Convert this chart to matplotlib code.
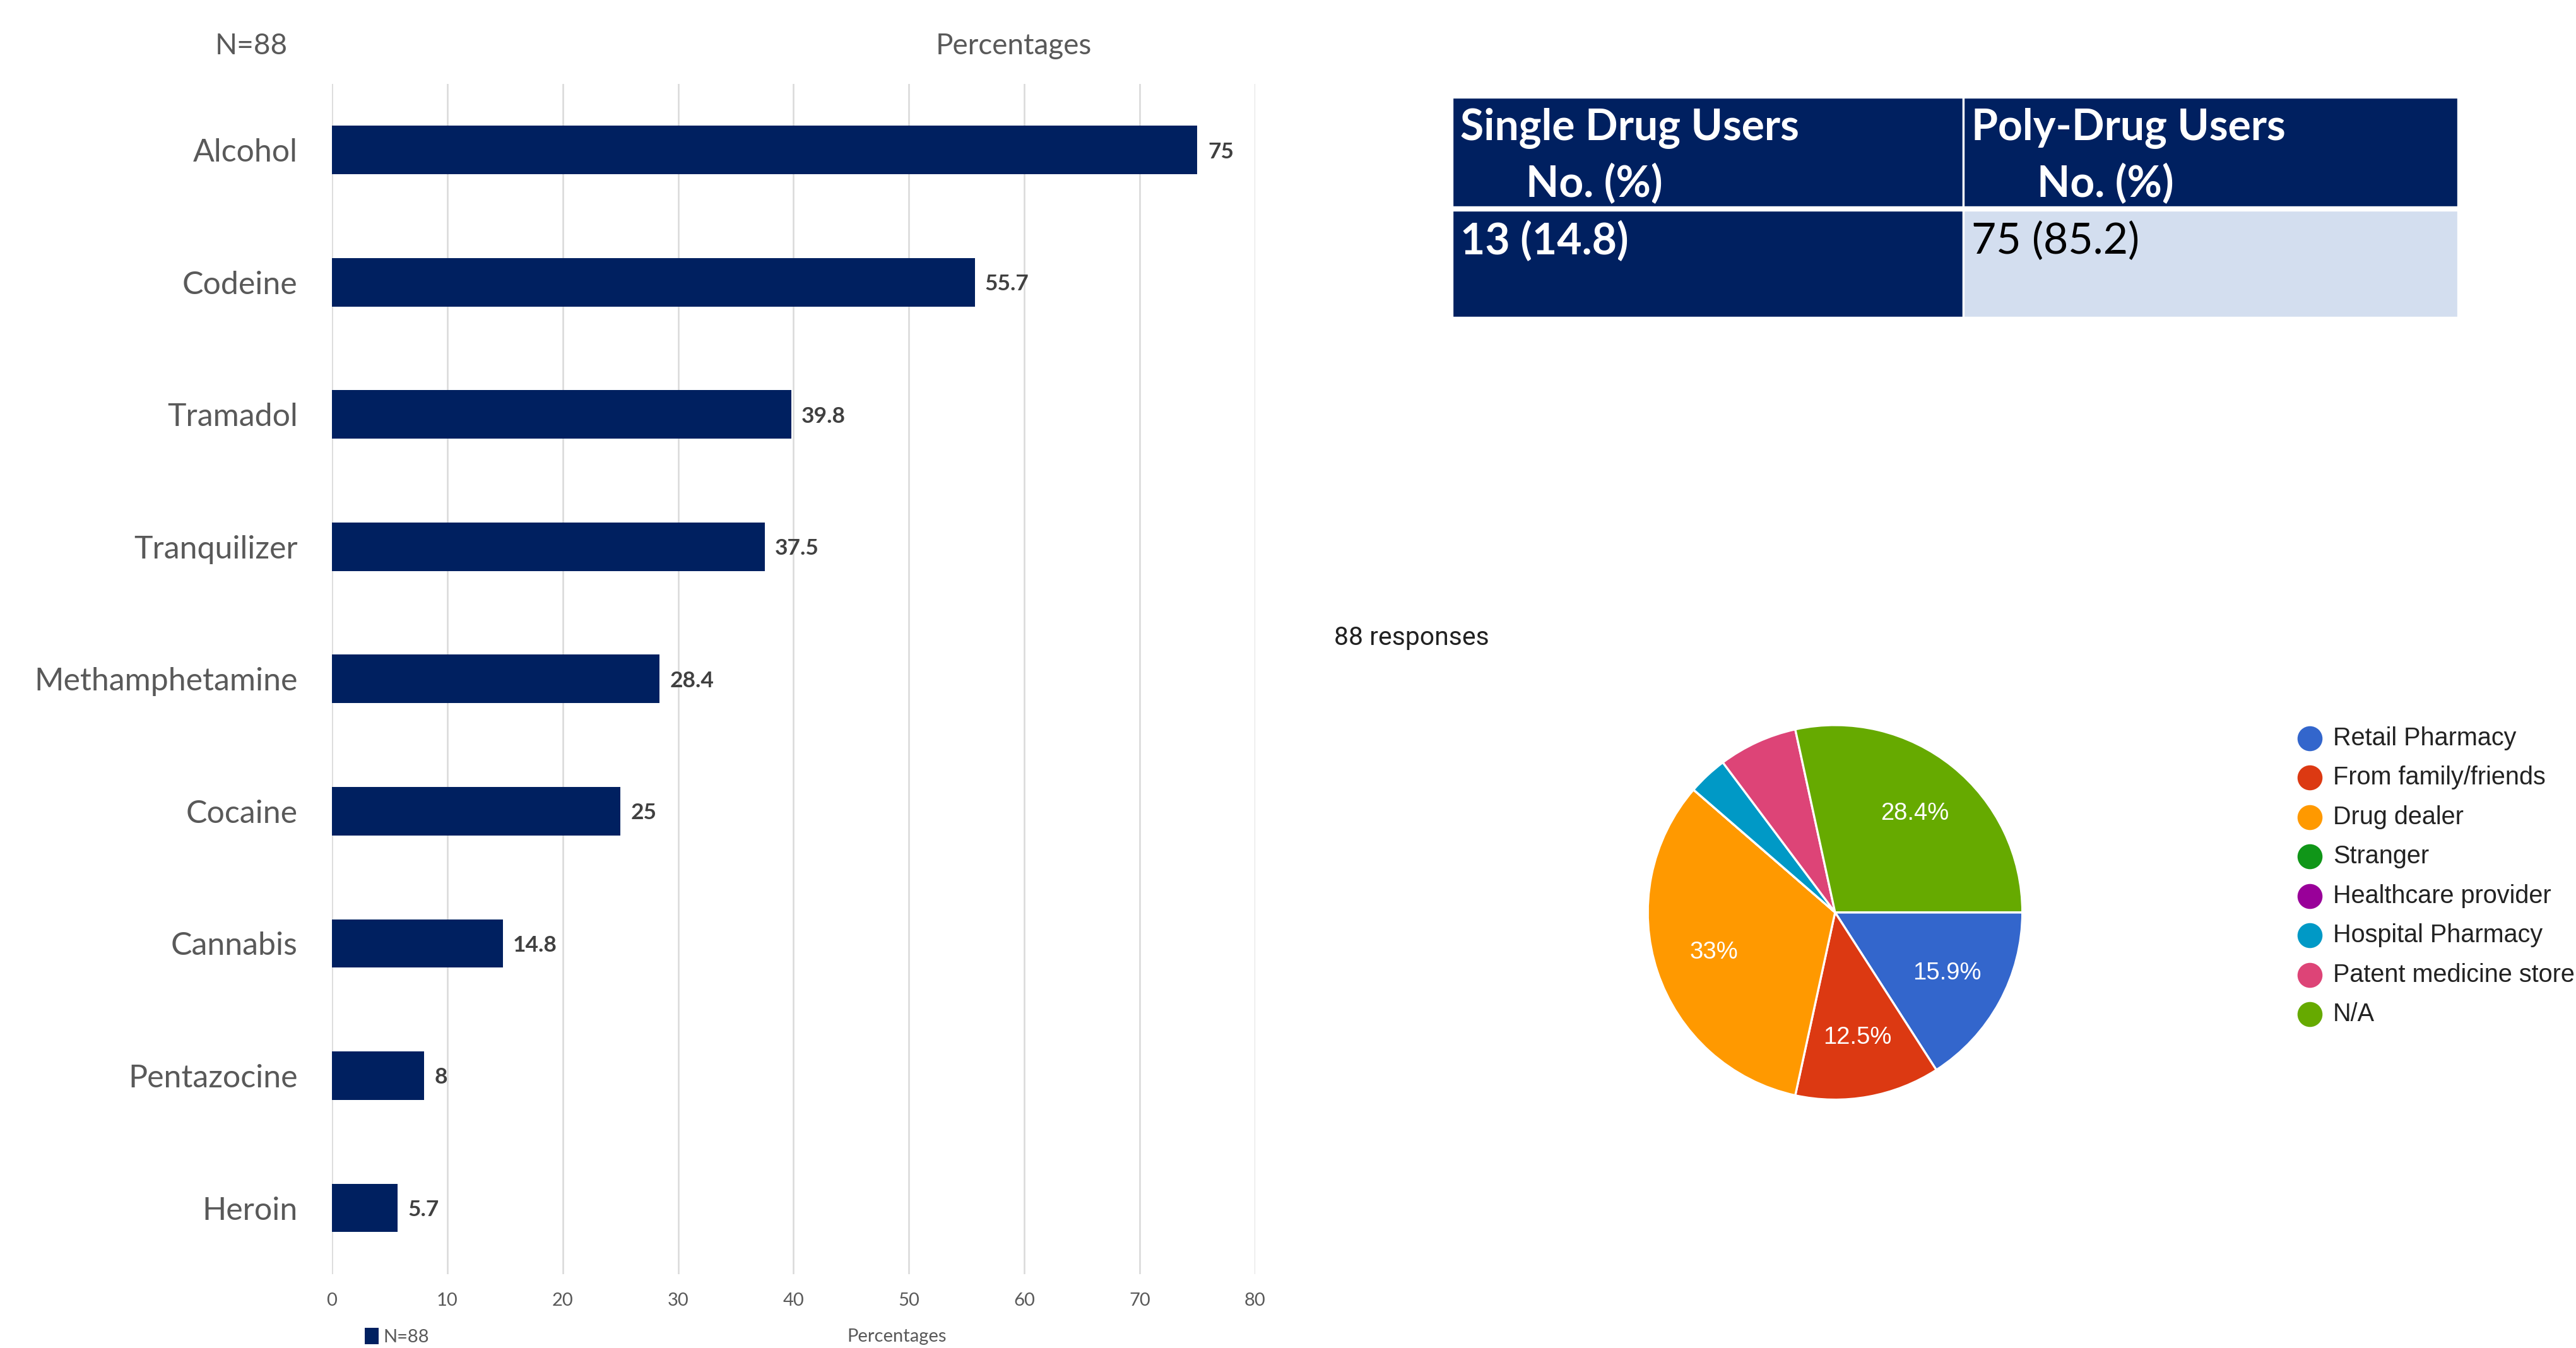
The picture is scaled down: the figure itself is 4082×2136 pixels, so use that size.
import matplotlib
matplotlib.use("Agg")
import matplotlib.pyplot as plt
import numpy as np
from matplotlib.patches import Rectangle

# Data
drugs = ["Alcohol", "Codeine", "Tramadol", "Tranquilizer", "Methamphetamine",
         "Cocaine", "Cannabis", "Pentazocine", "Heroin"]
drug_pct = [75, 55.7, 39.8, 37.5, 28.4, 25, 14.8, 8, 5.7]
drug_labels = ["75", "55.7", "39.8", "37.5", "28.4", "25", "14.8", "8", "5.7"]
x_ticks = [0, 10, 20, 30, 40, 50, 60, 70, 80]

table_header = ["Single Drug Users", "Poly-Drug Users"]
table_sub = ["No. (%)", "No. (%)"]
table_values = ["13 (14.8)", "75 (85.2)"]

sources = ["Retail Pharmacy", "From family/friends", "Drug dealer", "Stranger",
           "Healthcare provider", "Hospital Pharmacy", "Patent medicine store", "N/A"]
source_counts = [14, 11, 29, 0, 0, 3, 6, 25]
source_labels = ["15.9%", "12.5%", "33%", "", "", "", "", "28.4%"]
source_colors = ["#3366CC", "#DC3912", "#FF9900", "#109618",
                 "#990099", "#0099C6", "#DD4477", "#66AA00"]

NAVY = "#002060"
LIGHT = "#D3DEEF"
CAL = ["Lato", "DejaVu Sans"]
ARIAL = ["Liberation Sans", "DejaVu Sans"]

# layout is worked out on a 1568x820 grid
W, H = 1568.0, 820.0


def fx(x):
    return x / W


def fy(y):
    return 1 - y / H


fig = plt.figure(figsize=(4082 / 300, 2136 / 300), dpi=300)

# ---- bar chart ----
ax = fig.add_axes([fx(202), fy(775), (764 - 202) / W, (775 - 51) / H])
ypos = np.arange(len(drugs))
bars = ax.barh(ypos, drug_pct, height=0.366, color=NAVY, label="N=88", zorder=3)
ax.set_xlim(0, 80)
ax.set_ylim(len(drugs) - 0.5, -0.5)
ax.set_xticks(x_ticks)
ax.set_xticklabels([str(t) for t in x_ticks], fontsize=7, color="#595959", family=CAL)
ax.set_yticks(ypos)
ax.set_yticklabels(drugs, fontsize=12, color="#595959", family=CAL)
ax.tick_params(axis="both", length=0)
ax.tick_params(axis="y", pad=13)
ax.tick_params(axis="x", pad=7)
ax.grid(axis="x", color="#D9D9D9", linewidth=0.6, zorder=0)
for s in ax.spines.values():
    s.set_visible(False)
for b, lab in zip(bars, drug_labels):
    ax.text(b.get_width() + 0.9, b.get_y() + b.get_height() / 2, lab,
            va="center_baseline", ha="left", fontsize=8.5, fontweight="bold",
            color="#404040", family=CAL)
ax.set_xlabel("Percentages", fontsize=7, color="#595959", family=CAL)
ax.xaxis.set_label_coords((546 - 202) / (764 - 202), -(813 - 775) / (775 - 51))
ax.xaxis.label.set_va("center")
leg = fig.legend(handles=[bars], labels=["N=88"], loc="center left",
                 bbox_to_anchor=(fx(222), fy(813)), frameon=False,
                 prop={"family": CAL, "size": 7}, handlelength=0.75,
                 handleheight=1.0, handletextpad=0.25, borderpad=0, borderaxespad=0)
for t in leg.get_texts():
    t.set_color("#595959")

fig.text(fx(153), fy(28), "N=88", ha="center", va="center", fontsize=11,
         color="#595959", family=CAL)
fig.text(fx(617), fy(28), "Percentages", ha="center", va="center", fontsize=11,
         color="#595959", family=CAL)

# ---- table ----
tx = fig.add_axes([fx(884), fy(193), (1496 - 884) / W, (193 - 59) / H])
tx.set_xlim(0, 612)
tx.set_ylim(134, 0)
tx.axis("off")
col_x = [0, 311]
col_w = [311, 301]
for i in range(2):
    tx.add_patch(Rectangle((col_x[i], 0), col_w[i], 67, facecolor=NAVY,
                           edgecolor="white", linewidth=0.8))
    tx.add_patch(Rectangle((col_x[i], 69), col_w[i], 65,
                           facecolor=NAVY if i == 0 else LIGHT,
                           edgecolor="white", linewidth=0.8))
    tx.text(col_x[i] + 5, 19, table_header[i], ha="left", va="center",
            fontsize=16.3, fontweight="bold", color="white", family=CAL)
    tx.text(col_x[i] + 45, 53, table_sub[i], ha="left", va="center",
            fontsize=16.3, fontweight="bold", color="white", family=CAL)
    tx.text(col_x[i] + 5, 88, table_values[i], ha="left", va="center",
            fontsize=16.3, fontweight="bold" if i == 0 else "normal",
            color="white" if i == 0 else "black", family=CAL)

# ---- pie chart ----
fig.text(fx(812), fy(388), "88 responses", ha="left", va="center",
         fontsize=9.8, color="#212121", family=["Roboto", "DejaVu Sans"])
r = 114
px = fig.add_axes([fx(1117 - r), fy(555 + r), 2 * r / W, 2 * r / H])
wedges, _ = px.pie(source_counts, colors=source_colors, startangle=0,
                   counterclock=False,
                   wedgeprops={"edgecolor": "white", "linewidth": 0.8})
px.set_xlim(-1, 1)
px.set_ylim(-1, 1)
for w, lab in zip(wedges, source_labels):
    if not lab:
        continue
    ang = np.deg2rad((w.theta1 + w.theta2) / 2)
    px.text(0.68 * np.cos(ang), 0.68 * np.sin(ang), lab, ha="center",
            va="center", fontsize=9.2, color="white", family=ARIAL)

# legend
lx = fig.add_axes([fx(1395), fy(628), (1568 - 1395) / W, (628 - 436) / H])
lx.set_xlim(1395, 1568)
lx.set_ylim(628, 436)
lx.axis("off")
for i, (name, col) in enumerate(zip(sources, source_colors)):
    yy = 449 + 24 * i
    lx.plot(1406, yy, "o", markersize=8.5, color=col, clip_on=False)
    lx.text(1420, yy, name, ha="left", va="center", fontsize=9.5,
            color="#222222", family=ARIAL, clip_on=False)

fig.savefig("out.png", dpi=300)
